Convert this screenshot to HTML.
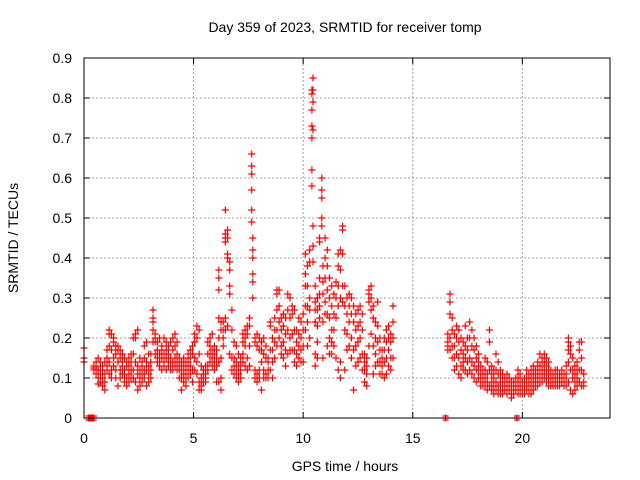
<!DOCTYPE html>
<html><head><meta charset="utf-8"><style>
body{margin:0;background:#fff}
svg{display:block;font-family:"Liberation Sans",sans-serif}
</style></head><body>
<svg id="chart" width="640" height="480">
<text x="345" y="32" text-anchor="middle" font-size="14">Day 359 of 2023, SRMTID for receiver tomp</text>
<text x="345" y="471" text-anchor="middle" font-size="14">GPS time / hours</text>
<text transform="translate(18,238) rotate(-90)" text-anchor="middle" font-size="14">SRMTID / TECUs</text>
<g id="grid"></g><g id="axes"></g><g id="marks"></g>
<rect x="84" y="58" width="526" height="360" fill="none" stroke="#000" stroke-width="1"/>
</svg>
<script>
const xTicks=[0,5,10,15,20];
const yTicks=[0,0.1,0.2,0.3,0.4,0.5,0.6,0.7,0.8,0.9];
const yTickLabels=["0","0.1","0.2","0.3","0.4","0.5","0.6","0.7","0.8","0.9"];
const times=[0.0,0.45,0.55,0.65,0.75,0.85,0.95,1.05,1.15,1.25,1.35,1.45,1.55,1.65,1.75,1.85,1.95,2.05,2.15,2.25,2.35,2.45,2.55,2.65,2.75,2.85,2.95,3.05,3.15,3.25,3.35,3.45,3.55,3.65,3.75,3.85,3.95,4.05,4.15,4.25,4.35,4.45,4.55,4.65,4.75,4.85,4.95,5.05,5.15,5.25,5.35,5.45,5.55,5.65,5.75,5.85,5.95,6.05,6.15,6.25,6.35,6.45,6.55,6.65,6.75,6.85,6.95,7.05,7.15,7.25,7.35,7.45,7.55,7.65,7.7,7.8,7.9,8.0,8.1,8.2,8.3,8.4,8.5,8.6,8.7,8.8,8.9,9.0,9.1,9.2,9.3,9.4,9.5,9.6,9.7,9.8,9.9,10.0,10.1,10.2,10.3,10.4,10.45,10.55,10.65,10.75,10.85,10.9,11.0,11.1,11.2,11.3,11.4,11.5,11.6,11.7,11.8,11.9,12.0,12.1,12.2,12.3,12.4,12.5,12.6,12.7,12.8,12.9,13.0,13.1,13.2,13.3,13.4,13.5,13.6,13.7,13.8,13.9,14.0,14.1,16.6,16.7,16.8,16.9,17.0,17.1,17.2,17.3,17.4,17.5,17.6,17.7,17.8,17.9,18.0,18.1,18.2,18.3,18.4,18.5,18.6,18.7,18.8,18.9,19.0,19.1,19.2,19.3,19.4,19.5,19.6,19.7,19.8,19.9,20.0,20.1,20.2,20.3,20.4,20.5,20.6,20.7,20.8,20.9,21.0,21.1,21.2,21.3,21.4,21.5,21.6,21.7,21.8,21.9,22.0,22.1,22.2,22.3,22.4,22.5,22.6,22.7,22.8];
const values=[[.175,.15,.14],[.13,.125,.12],[.13,.11,.12,.14],[.15,.10,.085,.12],[.13,.09,.11,.14],[.12,.10,.08,.13],[.14,.11,.07,.09],[.15,.12,.13,.17],[.21,.22,.18,.14,.11],[.21,.17,.12,.1],[.2,.19,.15,.13],[.18,.16,.12,.10],[.17,.18,.08,.14],[.17,.15,.12,.10],[.13,.14,.16,.11],[.12,.15,.11,.09],[.13,.10,.08,.14],[.13,.15,.11,.09],[.14,.12,.10,.16],[.20,.16,.12,.10],[.21,.20,.14,.09],[.22,.13,.07,.11],[.15,.12,.10,.08],[.14,.11,.09,.13],[.18,.15,.12,.10],[.19,.14,.12,.08],[.16,.11,.09,.13],[.14,.12,.10,.16],[.27,.25,.24,.22,.19],[.21,.19,.20,.16],[.19,.17,.15,.14],[.20,.16,.14,.13],[.18,.17,.15,.12],[.20,.16,.14,.13],[.19,.17,.15,.12],[.18,.16,.14,.13],[.19,.15,.13,.12],[.20,.17,.14,.12],[.21,.18,.15,.13],[.19,.16,.14,.12],[.15,.13,.12,.10],[.14,.12,.10,.07],[.15,.13,.11,.09],[.14,.12,.10,.08],[.16,.14,.12,.10],[.17,.15,.13,.11],[.18,.16,.12,.09],[.21,.19,.15,.12],[.23,.20,.14,.11],[.22,.16,.09,.07],[.13,.10,.08,.07],[.12,.11,.09,.10],[.13,.11,.10,.09],[.19,.16,.13,.12],[.20,.18,.16,.14],[.21,.17,.15,.13],[.18,.16,.14,.12],[.17,.15,.13,.09],[.37,.35,.32,.25,.20,.14,.09],[.24,.22,.15,.10,.07],[.24,.22,.20,.18],[.52,.46,.45,.44,.25,.22],[.47,.45,.41,.40,.23],[.39,.37,.33,.31,.16],[.27,.22,.15,.12],[.19,.15,.13,.11],[.18,.14,.12,.10],[.16,.13,.11,.09],[.15,.12,.10,.13],[.21,.19,.16,.14],[.22,.20,.18,.13],[.23,.21,.15,.12],[.25,.23,.18,.13],[.66,.63,.61,.57,.52,.49],[.45,.42,.40,.36,.34,.30],[.20,.19,.12,.10],[.21,.18,.11,.09],[.20,.17,.12,.10],[.19,.17,.14,.07],[.20,.16,.12,.10],[.18,.15,.11,.10],[.15,.14,.12,.10],[.24,.23,.17,.12],[.20,.17,.14,.10],[.25,.22,.19,.15],[.32,.31,.27,.22,.18],[.32,.28,.24,.20],[.25,.22,.18,.16],[.26,.23,.19,.15],[.25,.21,.17,.13],[.31,.27,.22,.16],[.30,.25,.20,.17],[.28,.26,.21,.17],[.27,.22,.17,.14],[.22,.19,.16,.13],[.25,.21,.18,.15],[.24,.20,.17,.14],[.26,.22,.18,.14],[.41,.36,.33,.28,.22],[.38,.33,.28,.24,.18],[.42,.39,.30,.27,.20],[.82,.81,.77,.73,.70,.62,.58],[.85,.82,.79,.72,.48,.43,.39],[.33,.29,.27,.24,.16,.13],[.30,.27,.23,.19,.15],[.45,.44,.35,.31,.28,.25],[.60,.57,.55,.50,.48],[.38,.34,.31,.24,.15],[.45,.40,.35,.29,.26],[.42,.38,.32,.26,.18],[.35,.30,.25,.20,.16],[.33,.28,.22,.19,.16],[.31,.26,.22,.18],[.34,.30,.25,.15],[.41,.38,.33,.28,.12],[.42,.37,.30,.14,.10],[.48,.47,.41,.33,.29],[.33,.28,.22,.12],[.30,.26,.21,.17],[.31,.28,.24,.18],[.30,.26,.20,.15],[.28,.24,.17,.07],[.26,.22,.18,.13],[.27,.23,.19,.14],[.28,.24,.20,.15],[.26,.22,.16,.12],[.16,.14,.12,.09],[.15,.13,.11,.08],[.32,.31,.29,.18],[.33,.30,.27,.21],[.28,.25,.18,.11],[.24,.20,.16,.13],[.29,.23,.19,.14],[.20,.17,.14,.11],[.17,.15,.13,.11],[.20,.17,.14,.10],[.22,.19,.15,.11],[.23,.20,.17,.13],[.21,.19,.15,.12],[.28,.24,.20,.15],[.21,.19,.18,.17],[.31,.29,.26,.20,.17],[.25,.22,.18,.15],[.21,.18,.15,.12],[.23,.20,.16,.13],[.22,.19,.15,.11],[.20,.17,.13,.10],[.19,.16,.14,.12],[.23,.18,.15,.12],[.20,.17,.14,.11],[.24,.20,.15,.12],[.22,.18,.14,.11],[.20,.17,.13,.10],[.18,.15,.12,.09],[.16,.14,.12,.10],[.13,.11,.10,.08],[.12,.11,.09,.08],[.15,.12,.10,.08],[.14,.11,.09,.07],[.22,.19,.12,.08],[.13,.11,.09,.07],[.12,.10,.08,.06],[.16,.12,.09,.07],[.14,.11,.08,.06],[.12,.10,.08,.06],[.11,.09,.07,.06],[.10,.09,.08,.07],[.11,.09,.07,.06],[.10,.09,.08,.07],[.09,.08,.07,.05],[.09,.08,.07,.06],[.10,.09,.08,.07],[.12,.10,.08,.06],[.11,.09,.08,.06],[.09,.08,.07,.06],[.10,.08,.07,.06],[.12,.10,.08,.07],[.11,.09,.07,.06],[.12,.10,.08,.06],[.13,.11,.09,.07],[.12,.10,.09,.08],[.14,.12,.10,.08],[.16,.13,.11,.09],[.15,.13,.11,.09],[.16,.14,.12,.10],[.15,.13,.11,.09],[.14,.12,.10,.08],[.12,.11,.09,.08],[.11,.10,.09,.08],[.12,.11,.10,.08],[.12,.11,.09,.08],[.11,.10,.09,.08],[.12,.11,.10,.09],[.11,.10,.09,.08],[.13,.11,.09,.08],[.20,.19,.17,.14,.09],[.18,.16,.12,.07],[.15,.12,.10,.06],[.13,.11,.09,.07],[.14,.12,.10,.08],[.19,.17,.12,.09],[.19,.15,.12,.08],[.11,.09,.08]];
const zeroTimes=[0.2,0.25,0.3,0.35,0.4,0.45,16.5,19.75];

const NS="http://www.w3.org/2000/svg";
const X0=84,X1=610,Y0=418,Y1=58,XMAX=24,YMAX=0.9;
function xs(t){return X0+(X1-X0)*t/XMAX;}
function ys(v){return Y0-(Y0-Y1)*v/YMAX;}
function mk(tag,attrs,parent){const e=document.createElementNS(NS,tag);for(const k in attrs)e.setAttribute(k,attrs[k]);parent.appendChild(e);return e;}
const grid=document.getElementById('grid'),axes=document.getElementById('axes'),marks=document.getElementById('marks');
xTicks.forEach(t=>{
  const x=xs(t);
  if(t>0){const g=mk('line',{x1:x,x2:x,y1:Y0,y2:Y1,stroke:'#a0a0a0','stroke-dasharray':'2,2','stroke-width':1},grid);
  
  }
  mk('line',{x1:x,x2:x,y1:Y0,y2:Y0-6,stroke:'#000'},axes);
  mk('line',{x1:x,x2:x,y1:Y1,y2:Y1+6,stroke:'#000'},axes);
  const l=mk('text',{x:x,y:443,'text-anchor':'middle','font-size':14},axes);l.textContent=String(t);
  
  
});
yTicks.forEach((v,i)=>{
  const y=ys(v);
  if(v>0&&v<YMAX){const g=mk('line',{x1:X0,x2:X1,y1:y,y2:y,stroke:'#a0a0a0','stroke-dasharray':'2,2','stroke-width':1},grid);
  
  }
  mk('line',{x1:X0,x2:X0+6,y1:y,y2:y,stroke:'#000'},axes);
  mk('line',{x1:X1,x2:X1-6,y1:y,y2:y,stroke:'#000'},axes);
  const l=mk('text',{x:72,y:y+5,'text-anchor':'end','font-size':14},axes);l.textContent=yTickLabels[i];
  
  
});
let d='';
times.forEach((t,i)=>{values[i].forEach(v=>{const x=xs(t),y=ys(v);d+=`M${(x-3.5).toFixed(1)} ${y.toFixed(1)}h7M${x.toFixed(1)} ${(y-3.5).toFixed(1)}v7`;});});
zeroTimes.forEach(t=>{const x=xs(t),y=ys(0);d+=`M${(x-3.5).toFixed(1)} ${y.toFixed(1)}h7M${x.toFixed(1)} ${(y-3.5).toFixed(1)}v7M${(x-3).toFixed(1)} ${(y-2).toFixed(1)}h6M${(x-3).toFixed(1)} ${(y+2).toFixed(1)}h6`;});
const p=mk('path',{d:d,stroke:'#ff0000','stroke-width':1.2,fill:'none'},marks);


</script>
</body></html>
